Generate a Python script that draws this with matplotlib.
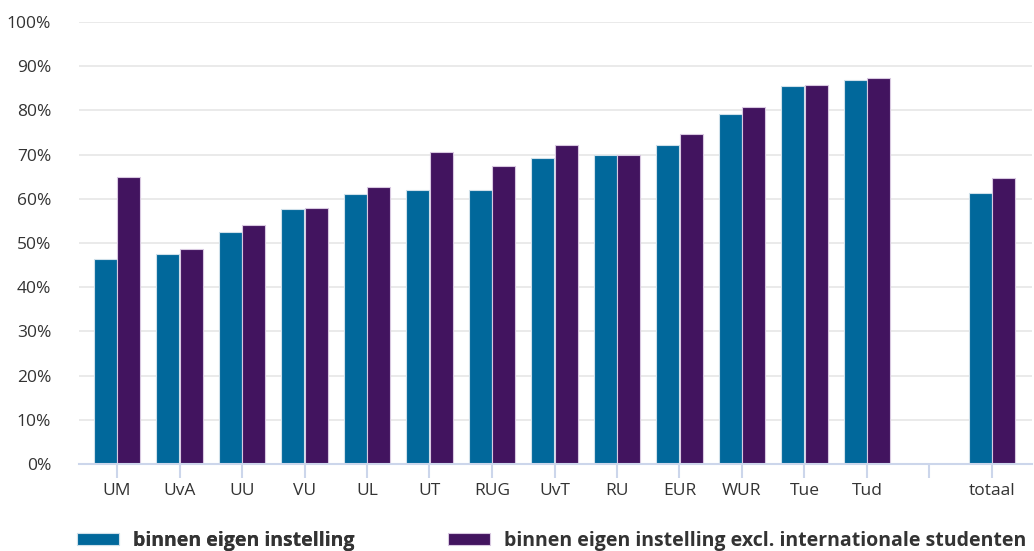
import matplotlib
matplotlib.use("Agg")
import matplotlib.pyplot as plt
import numpy as np

categories = ["UM", "UvA", "UU", "VU", "UL", "UT", "RUG", "UvT", "RU", "EUR", "WUR", "Tue", "Tud", "", "totaal"]
binnen = [46.4, 47.5, 52.5, 57.7, 61.0, 62.0, 62.0, 69.2, 70.0, 72.2, 79.1, 85.5, 86.8, None, 61.4]
binnen_excl = [64.9, 48.6, 54.1, 57.9, 62.6, 70.5, 67.4, 72.2, 70.0, 74.7, 80.7, 85.8, 87.4, None, 64.8]
series_names = ["binnen eigen instelling", "binnen eigen instelling excl. internationale studenten"]
yticks = [0, 10, 20, 30, 40, 50, 60, 70, 80, 90, 100]

blue = "#01689B"
purple = "#42145F"
text_col = "#333333"
axis_col = "#ccd6eb"

plt.rcParams['font.family'] = ['Open Sans', 'DejaVu Sans']

fig = plt.figure(figsize=(10.34, 5.51), dpi=100)
ax = fig.add_axes([79/1034, 87/551, 953/1034, 442/551])

x = np.arange(len(categories))
b1 = [np.nan if v is None else v for v in binnen]
b2 = [np.nan if v is None else v for v in binnen_excl]
w = 0.37
h1 = ax.bar(x - 0.19, b1, width=w, color=blue, edgecolor="#cfe0ea", linewidth=0.8, label=series_names[0], zorder=3)
h2 = ax.bar(x + 0.19, b2, width=w, color=purple, edgecolor="#d8c8e0", linewidth=0.8, label=series_names[1], zorder=3)

ax.set_xlim(-0.608, 14.64)
ax.set_ylim(0, 100)
ax.set_yticks(yticks)
ax.set_yticklabels([f"{t}%" for t in yticks])
ax.set_xticks(x)
ax.set_xticklabels(categories)
ax.grid(axis='y', color="#e6e6e6", linewidth=1.2, zorder=0)
for s in ["top", "right", "left"]:
    ax.spines[s].set_visible(False)
ax.spines["bottom"].set_color(axis_col)
ax.spines["bottom"].set_linewidth(1.5)
ax.spines["bottom"].set_zorder(4)
ax.tick_params(axis='x', length=10, width=1.5, color=axis_col, labelsize=12.5, labelcolor=text_col, pad=4)
ax.tick_params(axis='y', length=0, labelsize=12.5, labelcolor=text_col, pad=20)

fs = 14
px = fs * 100 / 72
common = dict(loc='center left', frameon=False, borderpad=0, borderaxespad=0,
              prop={'weight': 'bold', 'size': fs}, labelcolor=text_col,
              handlelength=42/px, handleheight=11.5/px, handletextpad=14/px)
leg1 = fig.legend(handles=[h1], labels=[series_names[0]], bbox_to_anchor=(77/1034, 10/551), **common)
fig.add_artist(leg1)
leg2 = fig.legend(handles=[h2], labels=[series_names[1]], bbox_to_anchor=(448/1034, 10/551), **common)

fig.savefig("out.png", dpi=100)
